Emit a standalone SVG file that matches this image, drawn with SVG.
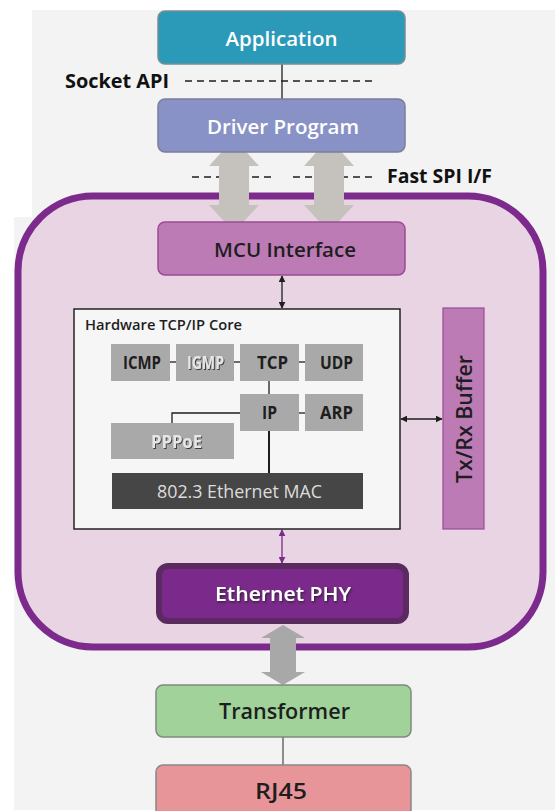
<svg xmlns="http://www.w3.org/2000/svg" width="555" height="811" viewBox="0 0 555 811">
<defs>
<style>
.lbl{font-family:"Open Sans","Noto Sans","Liberation Sans",sans-serif;font-weight:600;text-anchor:middle;dominant-baseline:central}
.w{fill:#ffffff}
.k{fill:#1e1e1e}
.proto{fill:#a9a9a9}
.pt{font-family:"Open Sans","Noto Sans","Liberation Sans",sans-serif;font-weight:700;font-size:17px;fill:#1e1e1e;text-anchor:middle;dominant-baseline:central}
.emb{font-family:"Open Sans","Noto Sans","Liberation Sans",sans-serif;font-weight:700;font-size:17px;fill:#e6e6e6;text-anchor:middle;dominant-baseline:central}
.thin{stroke:#1e1e1e;stroke-width:1.3;fill:none}
.dash{stroke:#1e1e1e;stroke-width:1.3;stroke-dasharray:7 5;fill:none}
.side{font-family:"Open Sans","Noto Sans","Liberation Sans",sans-serif;font-weight:700;font-size:20px;fill:#111}
</style>
<marker id="ak" viewBox="0 0 10 10" refX="9" refY="5" markerWidth="7" markerHeight="7" markerUnits="userSpaceOnUse" orient="auto-start-reverse"><path d="M0,0 L10,5 L0,10 z" fill="#1e1e1e"/></marker>
<marker id="ap" viewBox="0 0 10 10" refX="9" refY="5" markerWidth="7" markerHeight="7" markerUnits="userSpaceOnUse" orient="auto-start-reverse"><path d="M0,0 L10,5 L0,10 z" fill="#7b2a8c"/></marker>
<filter id="emboss" x="-10%" y="-20%" width="130%" height="150%"><feDropShadow dx="1" dy="1" stdDeviation="0.5" flood-color="#333" flood-opacity="0.9"/></filter>
<filter id="glow" x="-10%" y="-30%" width="130%" height="170%"><feDropShadow dx="1" dy="1.5" stdDeviation="1" flood-color="#222" flood-opacity="0.9"/></filter>
</defs>

<polygon points="32,10 555,10 555,810 14,810 14,217 32,217" fill="#f3f3f3"/>

<g id="chip">
<rect x="18" y="196" width="525" height="451" rx="75" fill="#e9d4e3" stroke="#7c2a8c" stroke-width="7"/>
</g>

<g id="connectors">
<line class="dash" x1="185" y1="81" x2="372" y2="81"/>
<line class="dash" x1="192" y1="177" x2="274" y2="177"/>
<line class="dash" x1="293" y1="177" x2="375" y2="177"/>
<line class="thin" x1="282" y1="64" x2="282" y2="99"/>
<polygon points="234,138 259,166 249,166 249,205 259,205 234,232 209,205 219,205 219,166 209,166" fill="#c5c2bd"/>
<polygon points="329,138 354,166 344,166 344,205 354,205 329,232 304,205 314,205 314,166 304,166" fill="#c5c2bd"/>
<line class="thin" x1="282" y1="276" x2="282" y2="308" marker-start="url(#ak)" marker-end="url(#ak)"/>
<line class="thin" x1="401" y1="419" x2="442" y2="419" marker-start="url(#ak)" marker-end="url(#ak)"/>
<line x1="282" y1="530" x2="282" y2="563" stroke="#7b2a8c" stroke-width="1.3" marker-start="url(#ap)" marker-end="url(#ap)"/>
<polygon points="283,625 305,638 296,638 296,672 305,672 283,685 261,672 270,672 270,638 261,638" fill="#a8a8a8"/>
<line stroke="#555" stroke-width="1.3" x1="283" y1="737" x2="283" y2="765"/>
</g>

<g id="application">
<rect x="158" y="11" width="247" height="53" rx="7" fill="#2b9ab8" stroke="#7a8d95" stroke-width="1.5"/>
<text class="lbl w" x="281.5" y="38" font-size="20" textLength="112" lengthAdjust="spacingAndGlyphs">Application</text>
</g>
<text class="side" x="65" y="88" textLength="104" lengthAdjust="spacingAndGlyphs">Socket API</text>

<g id="driver">
<rect x="158" y="99" width="247" height="53" rx="7" fill="#8892c6" stroke="#7a7f9a" stroke-width="1.5"/>
<text class="lbl w" x="283" y="126" font-size="20" textLength="152" lengthAdjust="spacingAndGlyphs">Driver Program</text>
</g>
<text class="side" x="387" y="183" textLength="105" lengthAdjust="spacingAndGlyphs">Fast SPI I/F</text>

<g id="mcu-interface">
<rect x="158" y="222" width="247" height="53" rx="7" fill="#bd7bb5" stroke="#9b4a97" stroke-width="1.5"/>
<text class="lbl k" x="285" y="249" font-size="20" textLength="142" lengthAdjust="spacingAndGlyphs">MCU Interface</text>
</g>

<g id="tcpip-core">
<rect x="74" y="309" width="326" height="220" fill="#f6f6f6" stroke="#222" stroke-width="1.5"/>
<text x="85" y="330" font-family="Open Sans,Noto Sans,Liberation Sans,sans-serif" font-weight="600" font-size="14.5" fill="#1e1e1e" textLength="157" lengthAdjust="spacingAndGlyphs">Hardware TCP/IP Core</text>
<g id="core-links">
<line class="thin" x1="170" y1="362" x2="176" y2="362"/>
<line class="thin" x1="234" y1="362" x2="240" y2="362"/>
<line class="thin" x1="299" y1="362" x2="305" y2="362"/>
<line class="thin" x1="269" y1="381" x2="269" y2="394"/>
<line class="thin" x1="299" y1="413" x2="305" y2="413"/>
<polyline class="thin" points="240,413 172,413 172,423"/>
<line stroke="#1e1e1e" stroke-width="2" x1="269" y1="431" x2="269" y2="473"/>
</g>
<g id="icmp"><rect class="proto" x="111" y="344" width="59" height="37"/><text class="pt" x="142" y="362.5" textLength="38" lengthAdjust="spacingAndGlyphs">ICMP</text></g>
<g id="igmp"><rect class="proto" x="176" y="344" width="58" height="37"/><text class="emb" x="205.5" y="362.5" filter="url(#emboss)" textLength="37" lengthAdjust="spacingAndGlyphs">IGMP</text></g>
<g id="tcp"><rect class="proto" x="240" y="344" width="59" height="37"/><text class="pt" x="272.5" y="362.5" textLength="31" lengthAdjust="spacingAndGlyphs">TCP</text></g>
<g id="udp"><rect class="proto" x="305" y="344" width="58" height="37"/><text class="pt" x="336.5" y="362.5" textLength="33" lengthAdjust="spacingAndGlyphs">UDP</text></g>
<g id="ip"><rect class="proto" x="240" y="394" width="59" height="37"/><text class="pt" x="269.5" y="412.5" textLength="15" lengthAdjust="spacingAndGlyphs">IP</text></g>
<g id="arp"><rect class="proto" x="305" y="394" width="58" height="37"/><text class="pt" x="336.5" y="412.5" textLength="33" lengthAdjust="spacingAndGlyphs">ARP</text></g>
<g id="pppoe"><rect class="proto" x="111" y="423" width="123" height="36"/><text class="emb" x="176.5" y="441" filter="url(#emboss)" textLength="51" lengthAdjust="spacingAndGlyphs">PPPoE</text></g>
<g id="mac"><rect x="112" y="473" width="251" height="36" fill="#464646"/><text x="239.5" y="491" font-family="Open Sans,Noto Sans,Liberation Sans,sans-serif" font-size="17.5" fill="#dcdcdc" text-anchor="middle" dominant-baseline="central" textLength="165" lengthAdjust="spacingAndGlyphs">802.3 Ethernet MAC</text></g>
</g>

<g id="txrx-buffer">
<rect x="443" y="308" width="41" height="221" fill="#bd7bb5" stroke="#9b4a97" stroke-width="1.2"/>
<text class="lbl k" x="0" y="0" font-size="21" transform="translate(464,419) rotate(-90)" textLength="128" lengthAdjust="spacingAndGlyphs">Tx/Rx Buffer</text>
</g>

<g id="ethernet-phy">
<rect x="159" y="566" width="247" height="55" rx="9" fill="#7b2a8c" stroke="#5a2a61" stroke-width="6"/>
<text class="lbl w" x="283" y="593" font-size="20" filter="url(#glow)" textLength="136" lengthAdjust="spacingAndGlyphs">Ethernet PHY</text>
</g>

<g id="transformer">
<rect x="156" y="685" width="255" height="52" rx="7" fill="#a0d29a" stroke="#7f8a7e" stroke-width="1.5"/>
<text class="lbl k" x="284.5" y="711" font-size="21" font-weight="700" textLength="131" lengthAdjust="spacingAndGlyphs">Transformer</text>
</g>

<g id="rj45">
<rect x="156" y="765" width="255" height="60" rx="7" fill="#e8959a" stroke="#888" stroke-width="1.5"/>
<text class="lbl k" x="281" y="790" font-size="22" font-weight="700" textLength="52" lengthAdjust="spacingAndGlyphs">RJ45</text>
</g>
</svg>
